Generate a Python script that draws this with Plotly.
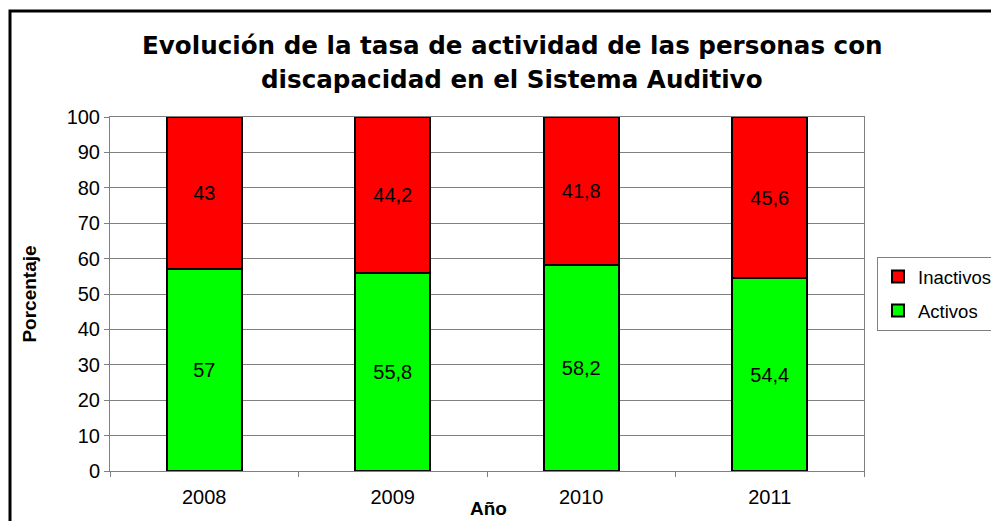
import plotly.graph_objects as go

years = ["2008", "2009", "2010", "2011"]
activos = [57, 55.8, 58.2, 54.4]
inactivos = [43, 44.2, 41.8, 45.6]
y_ticks = [0, 10, 20, 30, 40, 50, 60, 70, 80, 90, 100]


def fmt(v):
    return ("%g" % v).replace(".", ",")


# page body has an 8px margin; figure sized so the page is exactly 999x529
OFF = 8
W, H = 999 - 2 * OFF, 529 - 2 * OFF
# plot area in screen pixels
L, R, T, B = 110, 864, 117, 471
pw, ph = R - L, B - T


def px(x):
    return (x - L) / pw


def py(y):
    return (B - y) / ph


FONT = "Liberation Sans, Arial"

fig = go.Figure()
fig.add_trace(go.Bar(
    x=years, y=activos, name="Activos", legendgroup="a", legendrank=2,
    marker=dict(color="#00FF00", line=dict(color="black", width=2)),
    text=[fmt(v) for v in activos], textposition="inside",
    insidetextanchor="middle",
    textfont=dict(family=FONT, size=20, color="black"),
    width=0.4,
))
fig.add_trace(go.Bar(
    x=years, y=inactivos, name="Inactivos", legendgroup="b", legendrank=1,
    marker=dict(color="#FF0000", line=dict(color="black", width=2)),
    text=[fmt(v) for v in inactivos], textposition="inside",
    insidetextanchor="middle",
    textfont=dict(family=FONT, size=20, color="black"),
    width=0.4,
))

fig.update_layout(
    barmode="stack",
    width=W, height=H,
    margin=dict(l=L - OFF, r=W - (R - OFF), t=T - OFF, b=H - (B - OFF),
                pad=0, autoexpand=False),
    paper_bgcolor="white", plot_bgcolor="white",
    font=dict(family=FONT, size=20, color="black"),
    showlegend=True,
    legend=dict(
        x=px(877), y=py(257), xanchor="left", yanchor="top",
        traceorder="grouped", tracegroupgap=7,
        bordercolor="#808080", borderwidth=1,
        font=dict(size=18.5, family=FONT),
        itemwidth=30,
    ),
    xaxis=dict(
        type="category", tickson="boundaries", ticks="outside", ticklen=5,
        tickcolor="#808080", showline=True, linecolor="#808080", linewidth=1,
        mirror=True, showgrid=False,
        tickfont=dict(size=20), ticklabelstandoff=8,
    ),
    yaxis=dict(
        range=[0, 100], tickvals=y_ticks, ticks="outside", ticklen=5,
        tickcolor="#808080", showline=True, linecolor="#808080", linewidth=1,
        mirror=True, showgrid=True, gridcolor="#808080", gridwidth=1,
        tickfont=dict(size=20), zeroline=False,
        title=dict(text="<b>Porcentaje</b>", font=dict(size=19), standoff=24),
    ),
    annotations=[
        dict(text="<b>Evolución de la tasa de actividad de las personas con</b>",
             x=px(512), y=py(45), xref="paper", yref="paper",
             xanchor="center", yanchor="middle", showarrow=False,
             font=dict(family="DejaVu Sans", size=24.6, color="black")),
        dict(text="<b>discapacidad en el Sistema Auditivo</b>",
             x=px(512), y=py(80), xref="paper", yref="paper",
             xanchor="center", yanchor="middle", showarrow=False,
             font=dict(family="DejaVu Sans", size=24.6, color="black")),
        dict(text="<b>Año</b>",
             x=px(488), y=py(521), xref="paper", yref="paper",
             xanchor="center", yanchor="bottom", showarrow=False,
             font=dict(family=FONT, size=19, color="black")),
    ],
    shapes=[
        dict(type="rect", xref="paper", yref="paper",
             x0=px(10), y0=py(560), x1=px(1030), y1=py(11),
             line=dict(color="black", width=3), fillcolor="rgba(0,0,0,0)",
             layer="below"),
    ],
)

fig.write_html("out.html")
